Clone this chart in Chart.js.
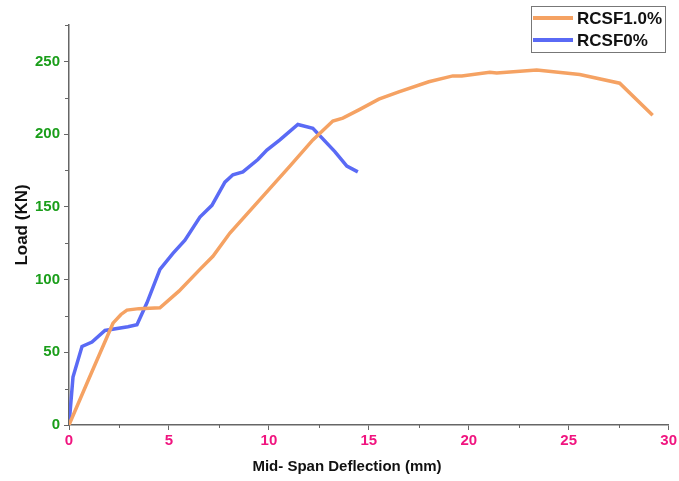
<!DOCTYPE html>
<html lang="en">
<head>
    <meta charset="UTF-8">
    <title>Load vs Mid-Span Deflection</title>
    <script src="https://cdn.jsdelivr.net/npm/chart.js"></script>
    <style>
        html, body { margin: 0; padding: 0; background: #fff; }
        #wrap { width: 679px; height: 481px; position: relative; }
    </style>
</head>
<body>
    <div id="wrap"><canvas id="myChart" width="679" height="481"></canvas></div>

    <script>
        // RCSF1.0% curve
        let fibreDefl = [0, 1, 2.2, 2.6, 2.9, 3.5, 4.55, 5.5, 6.55, 7.2, 8.05, 9.55, 11.05, 12.2, 13.2, 13.7, 14.55, 15.5, 16.5, 18, 19.2, 19.65, 21.05, 21.4, 23.4, 25.55, 27.55, 29.2];
        let fibreLoad = [0, 32, 70, 76, 79, 80, 80.6, 92, 107, 116, 132, 155, 178, 196, 209, 211, 217, 224, 229, 236, 240, 240, 242.5, 242, 244, 241, 235, 213];

        // RCSF0% curve
        let plainDefl = [0, 0.2, 0.65, 1.15, 1.8, 2.95, 3.4, 3.9, 4.55, 5.2, 5.8, 6.55, 7.15, 7.8, 8.2, 8.7, 9.45, 9.9, 10.55, 11.45, 12.2, 13.3, 13.9, 14.45];
        let plainLoad = [0, 33, 54, 57, 65, 67.5, 69, 84, 107, 118, 127, 143, 151, 167, 172, 174, 182.5, 189, 196, 206.6, 204, 188, 178, 174];

        let seriesNames = ["RCSF1.0%", "RCSF0%"];
        let seriesColors = ["#f5a263", "#5a6af5"];

        let xTitle = "Mid- Span Deflection (mm)";
        let yTitle = "Load (KN)";

        let xMax = 30, xStep = 5;
        let yMax = 275, yStep = 50;

        const axisGray = "#666";
        const font = "'Liberation Sans', Arial, sans-serif";

        function toPoints(xs, ys) {
            return xs.map((x, i) => ({ x: x, y: ys[i] }));
        }

        // short minor ticks between the labelled ones
        const minorTicks = {
            id: 'minorTicks',
            afterDraw(chart) {
                const c = chart.ctx;
                const xs = chart.scales.x, ys = chart.scales.y;
                c.save();
                c.strokeStyle = axisGray;
                c.lineWidth = 1;
                for (let v = xStep / 2; v < xMax; v += xStep) {
                    const px = Math.round(xs.getPixelForValue(v)) + 0.5;
                    c.beginPath();
                    c.moveTo(px, ys.bottom);
                    c.lineTo(px, ys.bottom + 3);
                    c.stroke();
                }
                for (let v = yStep / 2; v <= yMax; v += yStep) {
                    const py = Math.round(ys.getPixelForValue(v)) + 0.5;
                    c.beginPath();
                    c.moveTo(xs.left, py);
                    c.lineTo(xs.left - 4, py);
                    c.stroke();
                }
                c.restore();
            }
        };

        // axis titles, placed like the original plot
        const axisTitles = {
            id: 'axisTitles',
            afterDraw(chart) {
                const c = chart.ctx;
                c.save();
                c.fillStyle = "#111";
                c.textAlign = "center";
                c.textBaseline = "middle";
                c.font = "bold 15px " + font;
                c.fillText(xTitle, 347, 467);
                c.translate(22, (chart.chartArea.top + chart.chartArea.bottom) / 2);
                c.rotate(-Math.PI / 2);
                c.font = "bold 17px " + font;
                c.fillText(yTitle, 0, 0);
                c.restore();
            }
        };

        // boxed legend in the top right corner
        const boxLegend = {
            id: 'boxLegend',
            afterDraw(chart) {
                const c = chart.ctx;
                const bx = 531, by = 6, bw = 134, bh = 46;
                c.save();
                c.strokeStyle = "#777";
                c.lineWidth = 1;
                c.strokeRect(bx + 0.5, by + 0.5, bw, bh);
                c.font = "bold 17px " + font;
                c.textBaseline = "middle";
                c.fillStyle = "#111";
                chart.data.datasets.forEach((ds, i) => {
                    const yy = by + 12 + i * 22;
                    c.strokeStyle = ds.borderColor;
                    c.lineWidth = 4;
                    c.beginPath();
                    c.moveTo(bx + 2, yy);
                    c.lineTo(bx + 42, yy);
                    c.stroke();
                    c.fillText(ds.label, bx + 46, yy + 1);
                });
                c.restore();
            }
        };

        const configs = {
            type: 'scatter',
            data: {
                datasets: [
                    {
                        label: seriesNames[0],
                        data: toPoints(fibreDefl, fibreLoad),
                        borderColor: seriesColors[0],
                        backgroundColor: seriesColors[0],
                        showLine: true,
                        borderWidth: 3.5,
                        pointRadius: 0,
                        tension: 0
                    },
                    {
                        label: seriesNames[1],
                        data: toPoints(plainDefl, plainLoad),
                        borderColor: seriesColors[1],
                        backgroundColor: seriesColors[1],
                        showLine: true,
                        borderWidth: 3.5,
                        pointRadius: 0,
                        tension: 0
                    }
                ]
            },
            options: {
                responsive: false,
                animation: false,
                layout: { padding: { top: 25, right: 9, left: 0, bottom: 0 } },
                plugins: {
                    legend: { display: false },
                    tooltip: { enabled: false }
                },
                scales: {
                    x: {
                        type: 'linear',
                        min: 0,
                        max: xMax,
                        afterFit: s => { s.height = 56; },
                        ticks: {
                            stepSize: xStep,
                            color: "#f0147f",
                            padding: 2,
                            font: { family: font, size: 15, weight: 'bold' }
                        },
                        grid: { drawOnChartArea: false, tickLength: 5, color: axisGray, tickColor: axisGray },
                        border: { color: axisGray, width: 1.5 }
                    },
                    y: {
                        min: 0,
                        max: yMax,
                        afterFit: s => { s.width = 69; },
                        ticks: {
                            stepSize: yStep,
                            color: "#1a9e1a",
                            padding: 4,
                            font: { family: font, size: 15, weight: 'bold' },
                            callback: v => (v % yStep === 0 ? v : '')
                        },
                        grid: {
                            drawOnChartArea: false,
                            tickLength: 5,
                            color: axisGray,
                            tickColor: ctx => (ctx.tick && ctx.tick.value % yStep === 0 ? axisGray : 'rgba(0,0,0,0)')
                        },
                        border: { color: axisGray, width: 1.5 }
                    }
                }
            },
            plugins: [minorTicks, axisTitles, boxLegend]
        };

        new Chart(document.getElementById("myChart"), configs);
    </script>
</body>
</html>
